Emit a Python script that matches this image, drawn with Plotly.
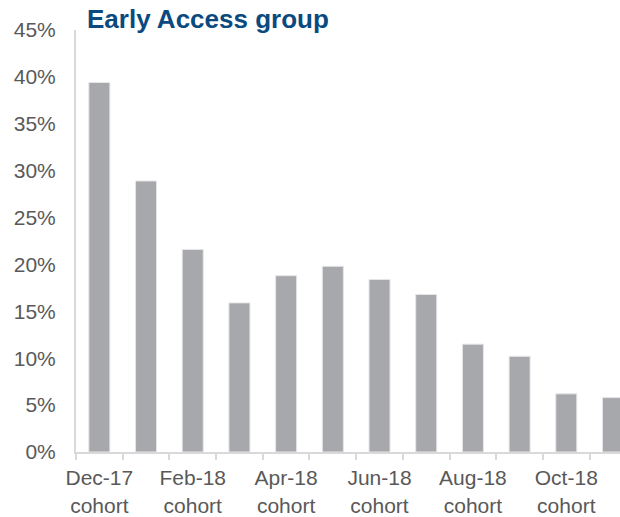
import plotly.graph_objects as go

# cohort months and early access share (%)
months = ["Dec-17", "Jan-18", "Feb-18", "Mar-18", "Apr-18", "May-18",
          "Jun-18", "Jul-18", "Aug-18", "Sep-18", "Oct-18", "Nov-18"]
share = [39.4, 28.9, 21.6, 15.9, 18.8, 19.8, 18.4, 16.8, 11.5, 10.2, 6.2, 5.8]

label_pos = [0, 2, 4, 6, 8, 10]
label_text = ["Dec-17<br>cohort", "Feb-18<br>cohort", "Apr-18<br>cohort",
              "Jun-18<br>cohort", "Aug-18<br>cohort", "Oct-18<br>cohort"]
y_ticks = [0, 5, 10, 15, 20, 25, 30, 35, 40, 45]

x = list(range(len(months)))

fig = go.Figure()
fig.add_trace(go.Bar(
    x=x, y=share, customdata=months,
    marker=dict(color="#A7A8AC", line=dict(color="#E6E6E8", width=1)),
    hovertemplate="%{customdata}: %{y}%<extra></extra>",
))

fig.update_layout(
    width=620, height=517,
    margin=dict(l=76, r=0, t=30, b=61),
    paper_bgcolor="white", plot_bgcolor="white",
    bargap=0.55,
    showlegend=False,
    font=dict(family="Liberation Sans, Arial, sans-serif", size=21, color="#595959"),
    title=dict(text="<b>Early Access group</b>", x=87 / 620, xanchor="left",
               y=1 - 19 / 517, yanchor="middle",
               font=dict(size=26, color="#0B4A7F")),
)

fig.update_xaxes(
    range=[-0.5, 11.15],
    tickvals=label_pos, ticktext=label_text,
    ticks="", showgrid=False, zeroline=False,
    showline=True, linecolor="#D9D9D9", linewidth=2,
    minor=dict(tickvals=[i - 0.5 for i in x], ticks="outside", ticklen=6,
               tickcolor="#D9D9D9", tickwidth=2, showgrid=False),
    ticklabelstandoff=6,
    tickfont=dict(size=21, color="#595959"),
)
fig.update_yaxes(
    range=[0, 45],
    tickvals=y_ticks, ticktext=[f"{v}%" for v in y_ticks],
    showgrid=False, zeroline=False,
    showline=True, linecolor="#D9D9D9", linewidth=2,
    ticks="", ticklabelstandoff=14,
    tickfont=dict(size=21, color="#595959"),
)

# drop the default body margin so the figure fills the window exactly
fig.write_html("out.html", config={"displayModeBar": False},
               post_script="document.body.style.margin='0';")
